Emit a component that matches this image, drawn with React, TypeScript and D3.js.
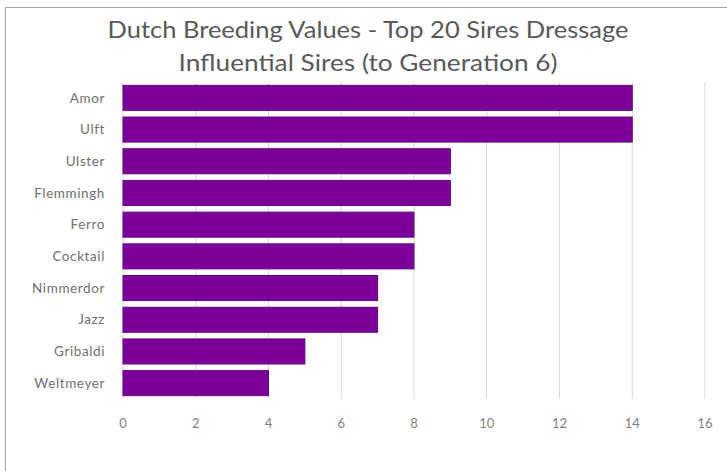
import React from "react";
import * as d3 from "d3";

const sires = ["Amor", "Ulft", "Ulster", "Flemmingh", "Ferro", "Cocktail", "Nimmerdor", "Jazz", "Gribaldi", "Weltmeyer"];
const counts = [14, 14, 9, 9, 8, 8, 7, 7, 5, 4];
const xTicks = [0, 2, 4, 6, 8, 10, 12, 14, 16];
const titleLines = ["Dutch Breeding Values - Top 20 Sires Dressage", "Influential Sires (to Generation 6)"];
const titleWidths = [521, 379];

export default function App() {
  const W = 727, H = 471;
  const left = 123, right = 705, top = 82, bottom = 399;
  const x = d3.scaleLinear().domain([0, 16]).range([left, right]);
  const y = d3.scaleBand<string>().domain(sires).range([top, bottom]).paddingInner(0.21).paddingOuter(0.105);
  const font = "Lato, 'Open Sans', sans-serif";
  return (
    <svg width={W} height={H} style={{ position: "absolute", left: 0, top: 0, background: "#fff" }}>
      <rect x={5.5} y={7.5} width={740} height={480} fill="#fff" stroke="#a6a6a6" />
      {titleLines.map((t, i) => (
        <text key={i} x={368} y={38 + i * 33} textAnchor="middle" fontFamily={font} fontSize={23} fill="#595959"
          textLength={titleWidths[i]} lengthAdjust="spacingAndGlyphs">{t}</text>
      ))}
      {xTicks.map(t => (
        <g key={t}>
          <line x1={x(t)} x2={x(t)} y1={top} y2={bottom} stroke="#d9d9d9" strokeWidth={1} />
          <text x={x(t)} y={428} textAnchor="middle" fontFamily={font} fontSize={13} fill="#7f7f7f">{t}</text>
        </g>
      ))}
      {sires.map((s, i) => (
        <g key={s}>
          <rect x={x(0)} y={y(s)} width={x(counts[i]) - x(0)} height={y.bandwidth()} fill="#7B0099" stroke="#6a0085" strokeWidth={1} />
          <text x={105} y={(y(s) as number) + y.bandwidth() / 2} dy="0.35em" textAnchor="end" fontFamily={font} fontSize={13.5} letterSpacing={0.6} fill="#6f6f6f">{s}</text>
        </g>
      ))}
    </svg>
  );
}
